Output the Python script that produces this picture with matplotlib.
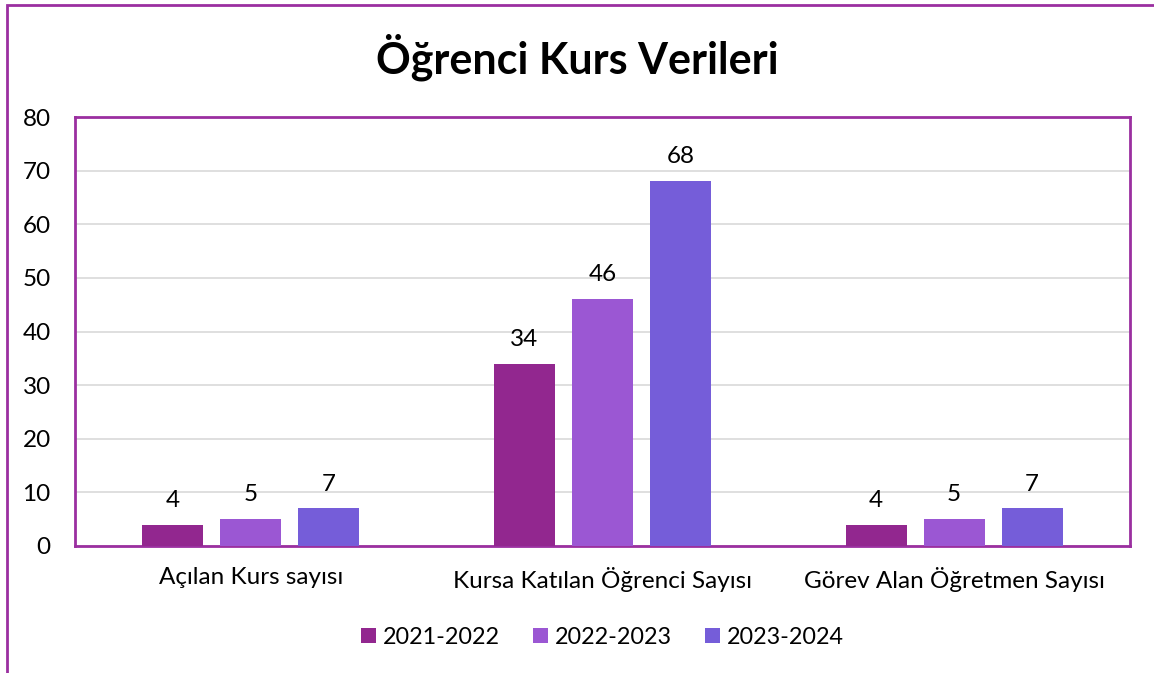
import matplotlib
matplotlib.use("Agg")
import matplotlib.pyplot as plt
import numpy as np
from matplotlib.patches import Rectangle

categories = ["Açılan Kurs sayısı", "Kursa Katılan Öğrenci Sayısı", "Görev Alan Öğretmen Sayısı"]
series_names = ["2021-2022", "2022-2023", "2023-2024"]
values_2021 = [4, 34, 4]
values_2022 = [5, 46, 5]
values_2023 = [7, 68, 7]
colors = ["#92278F", "#9B57D3", "#755DD9"]
border = "#9B2FA0"

plt.rcParams['font.family'] = ['Lato', 'DejaVu Sans']

fig = plt.figure(figsize=(11.54, 6.73), dpi=100)
ax = fig.add_axes([75/1154, 1-546/673, (1130-75)/1154, (546-117)/673])

x = np.arange(len(categories))
width = 0.173
step = 0.222
series = [values_2021, values_2022, values_2023]
for i, (name, vals, c) in enumerate(zip(series_names, series, colors)):
    bars = ax.bar(x + (i-1)*step, vals, width, color=c, label=name, zorder=3)
    ax.bar_label(bars, padding=10, fontsize=17.5, color="#000000")

ax.set_xlim(-0.5, 2.5)
ax.set_ylim(0, 80)
ax.set_yticks(range(0, 81, 10))
ax.set_xticks(x)
ax.set_xticklabels(categories)
ax.tick_params(axis='both', length=0, labelsize=17.5)
ax.tick_params(axis='x', pad=15)
ax.tick_params(axis='y', pad=17.5)
ax.grid(axis='y', color="#D9D9D9", linewidth=1.2, zorder=0)
for s in ax.spines.values():
    s.set_color(border)
    s.set_linewidth(2)

fig.text(0.5, 1-57/673, "Öğrenci Kurs Verileri", ha='center', va='center',
         fontsize=31, fontweight='bold')

ax.legend(loc='center', bbox_to_anchor=(0.5, (546-637)/(546-117)), ncol=3,
          frameon=False, fontsize=16.8, handlelength=0.65, handleheight=0.65,
          handletextpad=0.3, columnspacing=1.4)

fig.patches.append(Rectangle((7/1154, -0.1), 1.2, 1.1-5/673, transform=fig.transFigure,
                             fill=False, edgecolor=border, linewidth=2, zorder=10))

fig.savefig("out.png", dpi=100)
